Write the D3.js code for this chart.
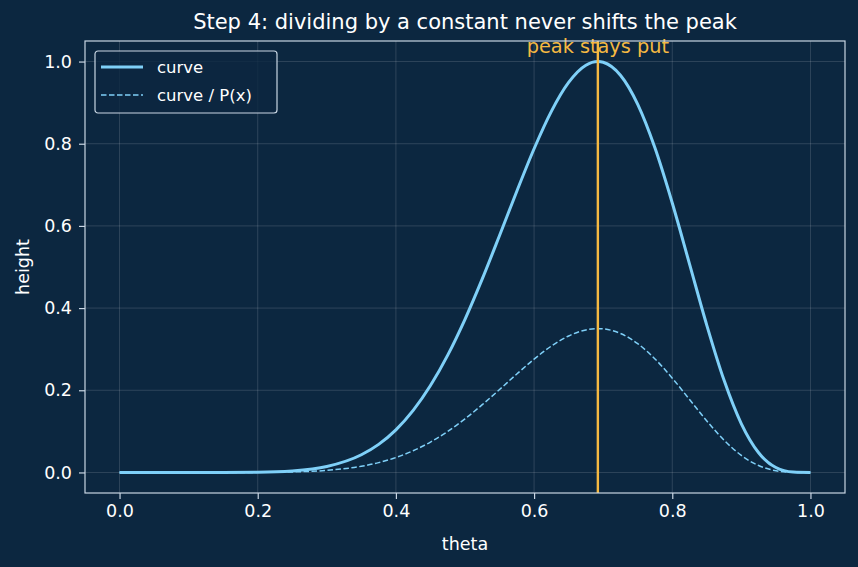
<!DOCTYPE html>
<html>
<head>
<meta charset="utf-8">
<script src="https://cdn.jsdelivr.net/npm/d3@7"></script>
<style>
  body { margin: 0; background: #0c2740; }
  text { font-family: "DejaVu Sans", sans-serif; }
</style>
</head>
<body>
<div id="chart"></div>
<script>
// values
var thetaVals = [0, 0.05, 0.1, 0.15, 0.2, 0.25, 0.3, 0.35, 0.375, 0.4, 0.425, 0.45, 0.475, 0.5,
    0.525, 0.55, 0.575, 0.6, 0.625, 0.65, 0.675, 0.6923, 0.7, 0.725, 0.75, 0.775, 0.8, 0.825,
    0.85, 0.875, 0.9, 0.925, 0.95, 0.975, 1];
var curveVals = [0, 0, 0, 0.0001, 0.0006, 0.0037, 0.0144, 0.043, 0.0683, 0.1037, 0.151, 0.2115, 0.2856, 0.3728,
    0.471, 0.5767, 0.6845, 0.7878, 0.8788, 0.9491, 0.991, 1.0, 0.9982, 0.9666, 0.8957, 0.7894, 0.6557, 0.5071,
    0.3581, 0.2241, 0.1183, 0.0479, 0.012, 0.001, 0];
var scaledVals = [0, 0, 0, 0, 0.0002, 0.0013, 0.0051, 0.0151, 0.0239, 0.0363, 0.0529, 0.074, 0.1, 0.1305,
    0.1649, 0.2018, 0.2396, 0.2757, 0.3076, 0.3322, 0.3469, 0.35, 0.3494, 0.3383, 0.3135, 0.2763, 0.2295, 0.1775,
    0.1253, 0.0784, 0.0414, 0.0168, 0.0042, 0.0003, 0];
var peakTheta = 0.6923;
var xTicks = [0, 0.2, 0.4, 0.6, 0.8, 1.0];
var yTicks = [0, 0.2, 0.4, 0.6, 0.8, 1.0];

var W = 858, H = 567;
var margin = { left: 85, right: 13, top: 41, bottom: 74 };
var width = W - margin.left - margin.right;
var height = H - margin.top - margin.bottom;

var bg = "#0c2740", fg = "#ffffff", frame = "#c9d6e3";
var blue = "#7fd0f8", orange = "#f5b942";
var fs = "17.5px";

var svg = d3.select("#chart").append("svg")
    .attr("width", W).attr("height", H);
svg.append("rect").attr("width", W).attr("height", H).attr("fill", bg);

var g = svg.append("g")
    .attr("transform", "translate(" + margin.left + "," + margin.top + ")");

var x = d3.scaleLinear().domain([-0.05, 1.05]).range([0, width]);
var y = d3.scaleLinear().domain([-0.05, 1.05]).range([height, 0]);

// grid
g.append("g").selectAll("line").data(xTicks).enter().append("line")
    .attr("x1", d => x(d)).attr("x2", d => x(d))
    .attr("y1", 0).attr("y2", height)
    .attr("stroke", "#ffffff").attr("stroke-opacity", 0.18).attr("stroke-width", 0.8);
g.append("g").selectAll("line").data(yTicks).enter().append("line")
    .attr("y1", d => y(d)).attr("y2", d => y(d))
    .attr("x1", 0).attr("x2", width)
    .attr("stroke", "#ffffff").attr("stroke-opacity", 0.18).attr("stroke-width", 0.8);

// axes
var xAxis = g.append("g")
    .attr("transform", "translate(0," + height + ")")
    .call(d3.axisBottom(x).tickValues(xTicks).tickFormat(d3.format(".1f")).tickSizeOuter(0).tickSize(6).tickPadding(6));
var yAxis = g.append("g")
    .call(d3.axisLeft(y).tickValues(yTicks).tickFormat(d3.format(".1f")).tickSizeOuter(0).tickSize(6).tickPadding(7));
[xAxis, yAxis].forEach(function(a) {
    a.select(".domain").remove();
    a.selectAll("line").attr("stroke", frame).attr("stroke-width", 1.2);
    a.selectAll("text").attr("fill", fg).attr("font-size", fs);
});

var pts = thetaVals.map(function(t, i) { return { t: t, c: curveVals[i], s: scaledVals[i] }; });

var lineC = d3.line().x(d => x(d.t)).y(d => y(d.c)).curve(d3.curveMonotoneX);
var lineS = d3.line().x(d => x(d.t)).y(d => y(d.s)).curve(d3.curveMonotoneX);

g.append("path").datum(pts).attr("d", lineC)
    .attr("fill", "none").attr("stroke", blue).attr("stroke-width", 3);
g.append("path").datum(pts).attr("d", lineS)
    .attr("fill", "none").attr("stroke", blue).attr("stroke-width", 1.5)
    .attr("stroke-dasharray", "5.5,2.5");

// peak marker
g.append("line")
    .attr("x1", x(peakTheta)).attr("x2", x(peakTheta))
    .attr("y1", 0).attr("y2", height)
    .attr("stroke", orange).attr("stroke-width", 2.4);
g.append("text")
    .attr("x", x(peakTheta)).attr("y", y(1.02))
    .attr("text-anchor", "middle").attr("fill", orange).attr("font-size", "19.3px")
    .text("peak stays put");

// frame
g.append("rect").attr("width", width).attr("height", height)
    .attr("fill", "none").attr("stroke", frame).attr("stroke-width", 1.2);

// legend
var lg = g.append("g").attr("transform", "translate(10,10)");
lg.append("rect").attr("width", 182).attr("height", 62).attr("rx", 3)
    .attr("fill", bg).attr("fill-opacity", 0.8).attr("stroke", frame).attr("stroke-width", 1.2);
lg.append("line").attr("x1", 6).attr("x2", 48).attr("y1", 16).attr("y2", 16)
    .attr("stroke", blue).attr("stroke-width", 3);
lg.append("line").attr("x1", 6).attr("x2", 48).attr("y1", 44).attr("y2", 44)
    .attr("stroke", blue).attr("stroke-width", 1.5).attr("stroke-dasharray", "5.5,2.5");
lg.append("text").attr("x", 62).attr("y", 22).attr("fill", fg).attr("font-size", "16.5px").text("curve");
lg.append("text").attr("x", 62).attr("y", 50).attr("fill", fg).attr("font-size", "16.5px").text("curve / P(x)");

// labels
svg.append("text").attr("x", margin.left + width / 2).attr("y", 29)
    .attr("text-anchor", "middle").attr("fill", fg).attr("font-size", "21px")
    .text("Step 4: dividing by a constant never shifts the peak");
svg.append("text").attr("x", margin.left + width / 2).attr("y", 550)
    .attr("text-anchor", "middle").attr("fill", fg).attr("font-size", fs)
    .text("theta");
svg.append("text").attr("transform", "translate(29," + (margin.top + height / 2) + ") rotate(-90)")
    .attr("text-anchor", "middle").attr("fill", fg).attr("font-size", fs)
    .text("height");
</script>
</body>
</html>
